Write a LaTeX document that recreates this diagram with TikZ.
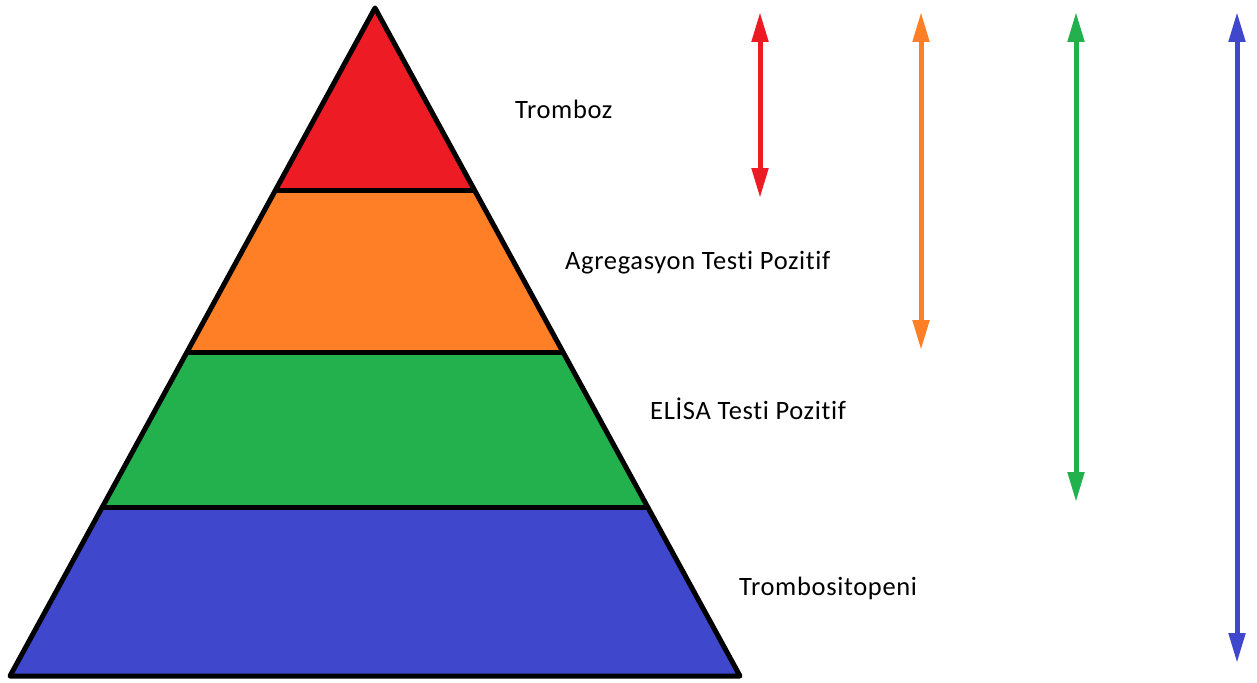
\documentclass[tikz,border=0pt]{standalone}
\usepackage{fontspec}
\setmainfont{Carlito}[Ligatures=NoCommon,LetterSpace=2.5]
\usetikzlibrary{arrows.meta}
\definecolor{pred}{HTML}{ED1C24}
\definecolor{porange}{HTML}{FF7F27}
\definecolor{pgreen}{HTML}{22B14C}
\definecolor{pblue}{HTML}{3F48CC}
\tikzset{
  band/.style={draw=black,line width=5pt,line join=round},
  varrow/.style={line width=5pt,{Triangle[length=30pt,width=16pt]}-{Triangle[length=30pt,width=16pt]}},
  lbl/.style={anchor=base west,inner sep=0pt,font=\fontsize{26.5}{32}\selectfont}
}
\begin{document}
\begin{tikzpicture}[x=1pt,y=-1pt]
\useasboundingbox (0,0) rectangle (1257,682);
% pyramid corners
\coordinate (apex) at (375,8);
\coordinate (l1) at (275.6,190); \coordinate (r1) at (474.4,190);
\coordinate (l2) at (187,352);   \coordinate (r2) at (563,352);
\coordinate (l3) at (102.3,507); \coordinate (r3) at (647.7,507);
\coordinate (bl) at (10,676);    \coordinate (br) at (740,676);
\fill[pred] (apex) -- (l1) -- (r1) -- cycle;
\fill[porange] (l1) -- (l2) -- (r2) -- (r1) -- cycle;
\fill[pgreen] (l2) -- (l3) -- (r3) -- (r2) -- cycle;
\fill[pblue] (l3) -- (bl) -- (br) -- (r3) -- cycle;
\draw[band] (apex) -- (bl) -- (br) -- cycle;
\draw[band] (l1) -- (r1);
\draw[band] (l2) -- (r2);
\draw[band] (l3) -- (r3);
% labels
\node[lbl] (t1) at (515,118) {Tromboz};
\node[lbl] (t2) at (565,269) {Agregasyon Testi Pozitif};
\node[lbl] (t3) at (650,419) {ELİSA Testi Pozitif};
\node[lbl] (t4) at (739,595) {Trombositopeni};
% arrows
\coordinate (a1t) at (760,12);  \coordinate (a1b) at (760,198);
\coordinate (a2t) at (921,12);  \coordinate (a2b) at (921,350);
\coordinate (a3t) at (1076,12); \coordinate (a3b) at (1076,502);
\coordinate (a4t) at (1237,12); \coordinate (a4b) at (1237,663);
\draw[varrow,pred] (a1t) -- (a1b);
\draw[varrow,porange] (a2t) -- (a2b);
\draw[varrow,pgreen] (a3t) -- (a3b);
\draw[varrow,pblue] (a4t) -- (a4b);
\end{tikzpicture}
\end{document}
